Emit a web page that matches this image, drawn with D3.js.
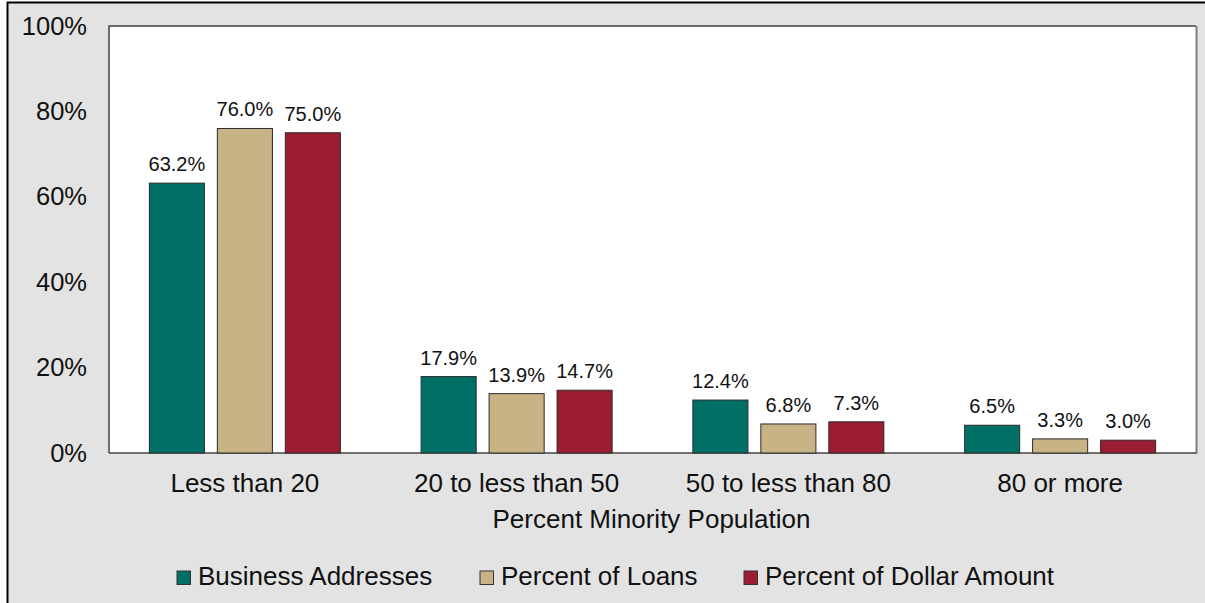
<!DOCTYPE html>
<html>
<head>
<meta charset="utf-8">
<script src="https://cdn.jsdelivr.net/npm/d3@7"></script>
<style>
  html, body { margin: 0; padding: 0; background: #ffffff; }
  svg { display: block; font-family: Arial, "Liberation Sans", sans-serif; }
</style>
</head>
<body>
<svg id="chart" width="1205" height="603"></svg>
<script>
// Share of business addresses, loans and dollar amount by tract minority share
const categories = ["Less than 20", "20 to less than 50", "50 to less than 80", "80 or more"];
const seriesNames = ["Business Addresses", "Percent of Loans", "Percent of Dollar Amount"];
const businessAddresses = [63.2, 17.9, 12.4, 6.5];
const percentOfLoans = [76.0, 13.9, 6.8, 3.3];
const percentOfDollarAmount = [75.0, 14.7, 7.3, 3.0];
const yTicks = [0, 20, 40, 60, 80, 100];
const colors = ["#007066", "#c8b387", "#9c1c32"];

const series = [businessAddresses, percentOfLoans, percentOfDollarAmount];

const svg = d3.select("#chart");
const W = 1205, H = 603;
const FONT = "Arial, 'Liberation Sans', sans-serif";

// chart background
svg.append("rect").attr("x", 8).attr("y", 3).attr("width", W - 8).attr("height", H - 3)
  .attr("fill", "#e3e3e3");
svg.append("line").attr("x1", 7).attr("x2", W).attr("y1", 2.5).attr("y2", 2.5)
  .attr("stroke", "#000").attr("stroke-width", 2);
svg.append("line").attr("x1", 7.5).attr("x2", 7.5).attr("y1", 2).attr("y2", H)
  .attr("stroke", "#000").attr("stroke-width", 2);

const plot = { left: 109, top: 26, right: 1196, bottom: 453 };

const x = d3.scaleBand().domain(categories).range([plot.left, plot.right]);
const y = d3.scaleLinear().domain([0, 100]).range([plot.bottom, plot.top]);
const xs = d3.scaleBand().domain(d3.range(series.length)).range([0, x.bandwidth()])
  .paddingInner(0.19).paddingOuter(0.594);

// plot area
svg.append("rect").attr("x", plot.left).attr("y", plot.top)
  .attr("width", plot.right - plot.left).attr("height", plot.bottom - plot.top)
  .attr("fill", "#ffffff");
svg.append("line").attr("x1", plot.right + 0.5).attr("x2", plot.right + 0.5)
  .attr("y1", plot.top).attr("y2", plot.bottom + 1)
  .attr("stroke", "#808080").attr("stroke-width", 2);
svg.append("path")
  .attr("d", `M${plot.left},${plot.bottom}V${plot.top}H${plot.right}`)
  .attr("fill", "none").attr("stroke", "#444").attr("stroke-width", 1.5);
svg.append("line").attr("x1", plot.left).attr("x2", plot.right)
  .attr("y1", plot.bottom).attr("y2", plot.bottom)
  .attr("stroke", "#444").attr("stroke-width", 1.5);

// y axis labels
const yAxis = d3.axisLeft(y).tickValues(yTicks).tickFormat(d => d + "%").tickSize(0).tickPadding(22);
const gy = svg.append("g").attr("transform", `translate(${plot.left},0)`).call(yAxis);
gy.select(".domain").remove();
gy.selectAll("text").attr("font-size", 25.5).attr("fill", "#111").attr("font-family", FONT);

// bars
const groups = svg.append("g").selectAll("g").data(categories).join("g")
  .attr("transform", d => `translate(${x(d)},0)`);

groups.each(function(cat, ci) {
  const g = d3.select(this);
  series.forEach((vals, si) => {
    const v = vals[ci];
    g.append("rect")
      .attr("x", xs(si)).attr("width", xs.bandwidth())
      .attr("y", y(v)).attr("height", y(0) - y(v))
      .attr("fill", colors[si]).attr("stroke", "#2b2b2b").attr("stroke-width", 1);
    g.append("text")
      .attr("x", xs(si) + xs.bandwidth() / 2).attr("y", y(v) - 12)
      .attr("text-anchor", "middle").attr("font-size", 20).attr("fill", "#111")
      .text(v.toFixed(1) + "%");
  });
});

// x axis labels
const xAxis = d3.axisBottom(x).tickSize(0).tickPadding(21);
const gx = svg.append("g").attr("transform", `translate(0,${plot.bottom})`).call(xAxis);
gx.select(".domain").remove();
gx.selectAll("text").attr("font-size", 26).attr("fill", "#111").attr("font-family", FONT);

// axis title
svg.append("text").attr("x", (plot.left + plot.right) / 2 - 1).attr("y", 528)
  .attr("text-anchor", "middle").attr("font-size", 26).attr("fill", "#111")
  .text("Percent Minority Population");

// legend
const legendX = [177, 480, 744];
const legend = svg.append("g").selectAll("g").data(seriesNames).join("g")
  .attr("transform", (d, i) => `translate(${legendX[i]},571)`);
legend.append("rect").attr("width", 13.5).attr("height", 13.5)
  .attr("fill", (d, i) => colors[i]).attr("stroke", "#333").attr("stroke-width", 1);
legend.append("text").attr("x", 21).attr("y", 14)
  .attr("font-size", 26).attr("fill", "#111").text(d => d);
</script>
</body>
</html>
